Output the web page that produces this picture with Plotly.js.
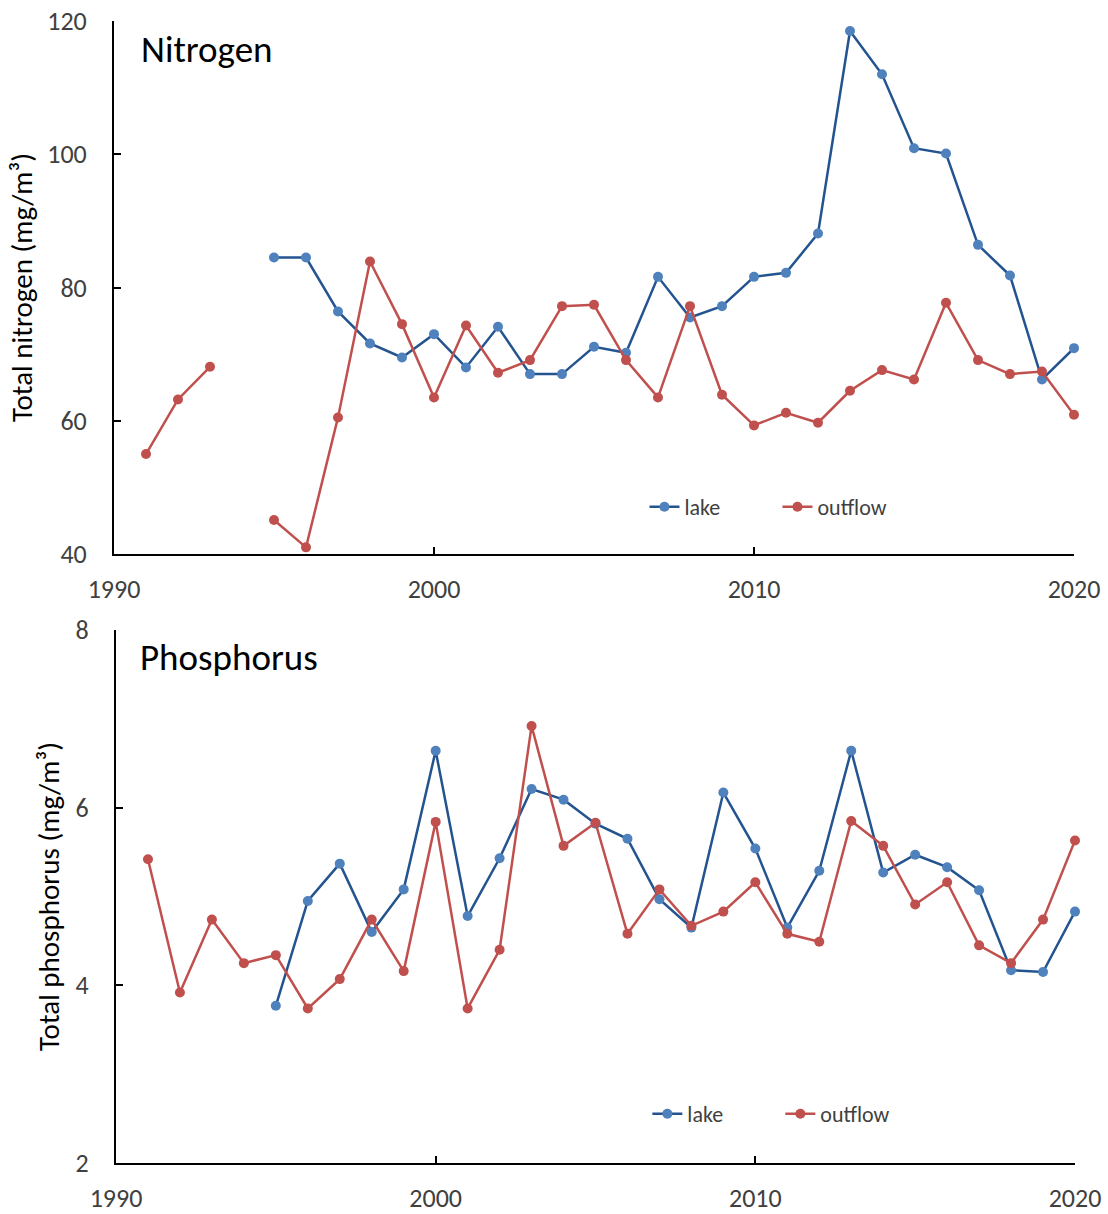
<!DOCTYPE html>
<html>
<head>
<meta charset="utf-8">
<script src="https://cdn.plot.ly/plotly-3.0.1.min.js"></script>
<style>html,body{margin:0;padding:0;background:#fff;}#chart{width:1108px;height:1214px;}</style>
</head>
<body>
<div id="chart"></div>
<script>
// ---- data ----
const yearsN = [1991,1992,1993,1994,1995,1996,1997,1998,1999,2000,2001,2002,2003,2004,2005,2006,2007,2008,2009,2010,2011,2012,2013,2014,2015,2016,2017,2018,2019,2020];
const nitrogenOutflow = [55.0,63.2,68.1,null,45.1,41.0,60.5,83.9,74.5,63.5,74.3,67.2,69.1,77.2,77.4,69.1,63.5,77.2,63.9,59.3,61.2,59.7,64.5,67.6,66.2,77.7,69.1,67.0,67.4,60.9];
const yearsLake = [1995,1996,1997,1998,1999,2000,2001,2002,2003,2004,2005,2006,2007,2008,2009,2010,2011,2012,2013,2014,2015,2016,2017,2018,2019,2020];
const nitrogenLake = [84.5,84.5,76.4,71.6,69.5,73.0,68.0,74.1,67.0,67.0,71.1,70.2,81.6,75.5,77.2,81.6,82.2,88.1,118.5,112.0,100.9,100.1,86.4,81.8,66.2,70.9];
const yearsP = [1991,1992,1993,1994,1995,1996,1997,1998,1999,2000,2001,2002,2003,2004,2005,2006,2007,2008,2009,2010,2011,2012,2013,2014,2015,2016,2017,2018,2019,2020];
const phosphorusOutflow = [5.42,3.92,4.74,4.25,4.34,3.74,4.07,4.74,4.16,5.84,3.74,4.40,6.92,5.57,5.83,4.58,5.08,4.67,4.83,5.16,4.58,4.49,5.85,5.57,4.91,5.16,4.45,4.25,4.74,5.63];
const phosphorusLake = [3.77,4.95,5.37,4.60,5.08,6.64,4.78,5.43,6.21,6.09,5.82,5.65,4.97,4.65,6.17,5.54,4.65,5.29,6.64,5.27,5.47,5.33,5.07,4.17,4.15,4.83];
const xTicks = [1990,2000,2010,2020];
const yTicksN = [40,60,80,100,120];
const yTicksP = [2,4,6,8];

// ---- styles ----
const FONT = 'Carlito, Lato, "Open Sans", sans-serif';
const LAKE_LINE = '#24548F', LAKE_MARK = '#4F81BD';
const OUT_LINE = '#C0504D', OUT_MARK = '#C0504D';

function tr(x, y, name, lc, mc, xa, ya, leg, show) {
  return {x: x, y: y, name: name, type: 'scatter', mode: 'lines+markers',
    xaxis: xa, yaxis: ya, legend: leg, showlegend: show, connectgaps: false, cliponaxis: false,
    line: {color: lc, width: 2.5}, marker: {color: mc, size: 10}};
}
const data = [
  tr(yearsLake, nitrogenLake, 'lake', LAKE_LINE, LAKE_MARK, 'x', 'y', 'legend', true),
  tr(yearsN, nitrogenOutflow, 'outflow', OUT_LINE, OUT_MARK, 'x', 'y', 'legend', true),
  tr(yearsLake, phosphorusLake, 'lake', LAKE_LINE, LAKE_MARK, 'x2', 'y2', 'legend2', true),
  tr(yearsP, phosphorusOutflow, 'outflow', OUT_LINE, OUT_MARK, 'x2', 'y2', 'legend2', true)
];

const axBase = {showline: true, linecolor: '#000', linewidth: 2, ticks: 'inside', ticklen: 7, tickwidth: 2,
  tickcolor: '#000', showgrid: false, zeroline: false, tickfont: {family: FONT, size: 26, color: '#404040'}};
const W = 961;
const layout = {
  width: 1108, height: 1214,
  margin: {l: 114, r: 33, t: 21, b: 51},
  paper_bgcolor: '#fff', plot_bgcolor: '#fff',
  font: {family: FONT, color: '#404040'},
  xaxis: Object.assign({}, axBase, {domain: [0, 960/W], range: [1990, 2020], tickvals: xTicks, anchor: 'y', ticklabelstandoff: 11}),
  yaxis: Object.assign({}, axBase, {domain: [609/1142, 1], range: [40, 120], tickvals: yTicksN, anchor: 'x', ticklabelstandoff: 20,
    title: {text: 'Total nitrogen (mg/m³)', font: {family: FONT, size: 29, color: '#000'}, standoff: 6}}),
  xaxis2: Object.assign({}, axBase, {domain: [2/W, 1], range: [1990, 2020], tickvals: xTicks, anchor: 'y2', ticklabelstandoff: 11}),
  yaxis2: Object.assign({}, axBase, {domain: [0, 533/1142], range: [2, 8], tickvals: yTicksP, anchor: 'x2', ticklabelstandoff: 20,
    title: {text: 'Total phosphorus (mg/m³)', font: {family: FONT, size: 29, color: '#000'}, standoff: 7}}),
  legend: {orientation: 'h', x: 0.552, xanchor: 'left', y: 0.5744, yanchor: 'middle', bgcolor: 'rgba(0,0,0,0)',
    font: {family: FONT, size: 22, color: '#404040'}, entrywidth: 88, itemwidth: 30, tracegroupgap: 0},
  legend2: {orientation: 'h', x: 0.555, xanchor: 'left', y: 0.043, yanchor: 'middle', bgcolor: 'rgba(0,0,0,0)',
    font: {family: FONT, size: 22, color: '#404040'}, entrywidth: 88, itemwidth: 30, tracegroupgap: 0},
  annotations: [
    {text: 'Nitrogen', xref: 'paper', yref: 'paper', x: 25/W, y: (1163-50)/1142, xanchor: 'left', yanchor: 'middle',
      showarrow: false, font: {family: FONT, size: 37, color: '#000'}},
    {text: 'Phosphorus', xref: 'paper', yref: 'paper', x: 24/W, y: (1163-657)/1142, xanchor: 'left', yanchor: 'middle',
      showarrow: false, font: {family: FONT, size: 37, color: '#000'}}
  ]
};
Plotly.newPlot('chart', data, layout, {staticPlot: true, displayModeBar: false});
</script>
</body>
</html>
